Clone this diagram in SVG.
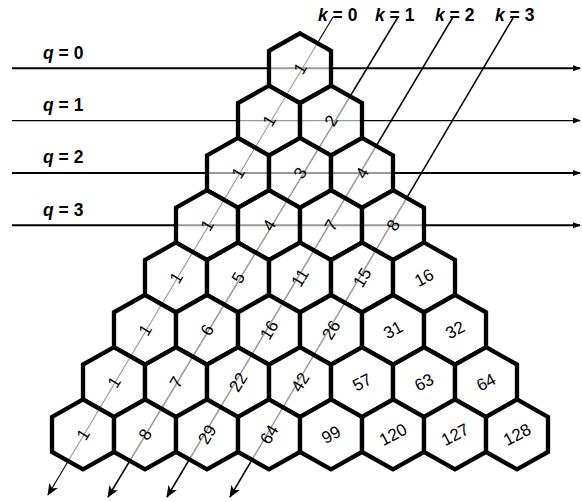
<svg xmlns="http://www.w3.org/2000/svg" xmlns:xlink="http://www.w3.org/1999/xlink" width="582" height="502" viewBox="0 0 582 502">
<style>
.lbl{font-family:"Liberation Sans",Arial,sans-serif;font-weight:bold;font-size:17.5px;fill:#000}
.lbl .v{font-style:italic}
.num{font-family:"Liberation Sans",Arial,sans-serif;font-size:17px;fill:#000;text-anchor:middle}
.hx{fill:#fff;fill-opacity:0.6;stroke:#000;stroke-width:4.3;stroke-linejoin:miter}
.h{stroke:#000;fill:none}
.d{stroke:#000;fill:none}
</style>
<defs>
<polygon id="hex" points="0,-35 31,-17.5 31,17.5 0,35 -31,17.5 -31,-17.5"/>
<marker id="ar" viewBox="0 0 8 8" refX="7" refY="4" markerWidth="8" markerHeight="8" markerUnits="userSpaceOnUse" orient="auto">
<path d="M0,1 L8,4 L0,7 z" fill="#000"/>
</marker>
<marker id="ad" viewBox="0 0 12 10" refX="11" refY="5" markerWidth="12" markerHeight="10" markerUnits="userSpaceOnUse" orient="auto">
<path d="M0,0 L12,5 L0,10 L3,5 z" fill="#000"/>
</marker>
</defs>
<rect width="582" height="502" fill="#fff"/>
<g id="connectors">
<line class="h" x1="12" y1="68.3" x2="580" y2="68.3" stroke-width="2" marker-end="url(#ar)"/>
<line class="h" x1="12" y1="120.6" x2="580" y2="120.6" stroke-width="1.4" marker-end="url(#ar)"/>
<line class="h" x1="12" y1="172.9" x2="580" y2="172.9" stroke-width="2" marker-end="url(#ar)"/>
<line class="h" x1="12" y1="225.2" x2="580" y2="225.2" stroke-width="2" marker-end="url(#ar)"/>
<line class="d" x1="333" y1="17" x2="48" y2="495" stroke-width="1.1" marker-end="url(#ad)"/>
<line class="d" x1="398" y1="17" x2="108" y2="497" stroke-width="1.5" marker-end="url(#ad)"/>
<line class="d" x1="453" y1="17" x2="167" y2="497" stroke-width="1.5" marker-end="url(#ad)"/>
<line class="d" x1="513" y1="18" x2="230" y2="497" stroke-width="1.5" marker-end="url(#ad)"/>
</g>
<g id="labels">
<text class="lbl" x="318" y="21"><tspan class="v">k</tspan> = 0</text>
<text class="lbl" x="375" y="21"><tspan class="v">k</tspan> = 1</text>
<text class="lbl" x="435" y="21"><tspan class="v">k</tspan> = 2</text>
<text class="lbl" x="495" y="21"><tspan class="v">k</tspan> = 3</text>
<text class="lbl" x="43" y="58.5"><tspan class="v">q</tspan> = 0</text>
<text class="lbl" x="43" y="111"><tspan class="v">q</tspan> = 1</text>
<text class="lbl" x="43" y="163.3"><tspan class="v">q</tspan> = 2</text>
<text class="lbl" x="43" y="215.6"><tspan class="v">q</tspan> = 3</text>
</g>
<g id="n0-0" transform="translate(300,68.3)"><use xlink:href="#hex" class="hx"/><text class="num" y="6" transform="rotate(-59)">1</text></g>
<g id="n1-0" transform="translate(269,120.6)"><use xlink:href="#hex" class="hx"/><text class="num" y="6" transform="rotate(-59)">1</text></g>
<g id="n1-1" transform="translate(331,120.6)"><use xlink:href="#hex" class="hx"/><text class="num" y="6" transform="rotate(-59)">2</text></g>
<g id="n2-0" transform="translate(238,172.9)"><use xlink:href="#hex" class="hx"/><text class="num" y="6" transform="rotate(-59)">1</text></g>
<g id="n2-1" transform="translate(300,172.9)"><use xlink:href="#hex" class="hx"/><text class="num" y="6" transform="rotate(-59)">3</text></g>
<g id="n2-2" transform="translate(362,172.9)"><use xlink:href="#hex" class="hx"/><text class="num" y="6" transform="rotate(-59)">4</text></g>
<g id="n3-0" transform="translate(207,225.2)"><use xlink:href="#hex" class="hx"/><text class="num" y="6" transform="rotate(-59)">1</text></g>
<g id="n3-1" transform="translate(269,225.2)"><use xlink:href="#hex" class="hx"/><text class="num" y="6" transform="rotate(-59)">4</text></g>
<g id="n3-2" transform="translate(331,225.2)"><use xlink:href="#hex" class="hx"/><text class="num" y="6" transform="rotate(-59)">7</text></g>
<g id="n3-3" transform="translate(393,225.2)"><use xlink:href="#hex" class="hx"/><text class="num" y="6" transform="rotate(-59)">8</text></g>
<g id="n4-0" transform="translate(176,277.5)"><use xlink:href="#hex" class="hx"/><text class="num" y="6" transform="rotate(-59)">1</text></g>
<g id="n4-1" transform="translate(238,277.5)"><use xlink:href="#hex" class="hx"/><text class="num" y="6" transform="rotate(-59)">5</text></g>
<g id="n4-2" transform="translate(300,277.5)"><use xlink:href="#hex" class="hx"/><text class="num" y="6" transform="rotate(-59)">11</text></g>
<g id="n4-3" transform="translate(362,277.5)"><use xlink:href="#hex" class="hx"/><text class="num" y="6" transform="rotate(-59)">15</text></g>
<g id="n4-4" transform="translate(424,277.5)"><use xlink:href="#hex" class="hx"/><text class="num" y="6" transform="rotate(-28)">16</text></g>
<g id="n5-0" transform="translate(145,329.8)"><use xlink:href="#hex" class="hx"/><text class="num" y="6" transform="rotate(-59)">1</text></g>
<g id="n5-1" transform="translate(207,329.8)"><use xlink:href="#hex" class="hx"/><text class="num" y="6" transform="rotate(-59)">6</text></g>
<g id="n5-2" transform="translate(269,329.8)"><use xlink:href="#hex" class="hx"/><text class="num" y="6" transform="rotate(-59)">16</text></g>
<g id="n5-3" transform="translate(331,329.8)"><use xlink:href="#hex" class="hx"/><text class="num" y="6" transform="rotate(-59)">26</text></g>
<g id="n5-4" transform="translate(393,329.8)"><use xlink:href="#hex" class="hx"/><text class="num" y="6" transform="rotate(-28)">31</text></g>
<g id="n5-5" transform="translate(455,329.8)"><use xlink:href="#hex" class="hx"/><text class="num" y="6" transform="rotate(-28)">32</text></g>
<g id="n6-0" transform="translate(114,382.1)"><use xlink:href="#hex" class="hx"/><text class="num" y="6" transform="rotate(-59)">1</text></g>
<g id="n6-1" transform="translate(176,382.1)"><use xlink:href="#hex" class="hx"/><text class="num" y="6" transform="rotate(-59)">7</text></g>
<g id="n6-2" transform="translate(238,382.1)"><use xlink:href="#hex" class="hx"/><text class="num" y="6" transform="rotate(-59)">22</text></g>
<g id="n6-3" transform="translate(300,382.1)"><use xlink:href="#hex" class="hx"/><text class="num" y="6" transform="rotate(-59)">42</text></g>
<g id="n6-4" transform="translate(362,382.1)"><use xlink:href="#hex" class="hx"/><text class="num" y="6" transform="rotate(-28)">57</text></g>
<g id="n6-5" transform="translate(424,382.1)"><use xlink:href="#hex" class="hx"/><text class="num" y="6" transform="rotate(-28)">63</text></g>
<g id="n6-6" transform="translate(486,382.1)"><use xlink:href="#hex" class="hx"/><text class="num" y="6" transform="rotate(-28)">64</text></g>
<g id="n7-0" transform="translate(83,434.4)"><use xlink:href="#hex" class="hx"/><text class="num" y="6" transform="rotate(-59)">1</text></g>
<g id="n7-1" transform="translate(145,434.4)"><use xlink:href="#hex" class="hx"/><text class="num" y="6" transform="rotate(-59)">8</text></g>
<g id="n7-2" transform="translate(207,434.4)"><use xlink:href="#hex" class="hx"/><text class="num" y="6" transform="rotate(-59)">29</text></g>
<g id="n7-3" transform="translate(269,434.4)"><use xlink:href="#hex" class="hx"/><text class="num" y="6" transform="rotate(-59)">64</text></g>
<g id="n7-4" transform="translate(331,434.4)"><use xlink:href="#hex" class="hx"/><text class="num" y="6" transform="rotate(-28)">99</text></g>
<g id="n7-5" transform="translate(393,434.4)"><use xlink:href="#hex" class="hx"/><text class="num" y="6" transform="rotate(-28)">120</text></g>
<g id="n7-6" transform="translate(455,434.4)"><use xlink:href="#hex" class="hx"/><text class="num" y="6" transform="rotate(-28)">127</text></g>
<g id="n7-7" transform="translate(517,434.4)"><use xlink:href="#hex" class="hx"/><text class="num" y="6" transform="rotate(-28)">128</text></g>
</svg>
